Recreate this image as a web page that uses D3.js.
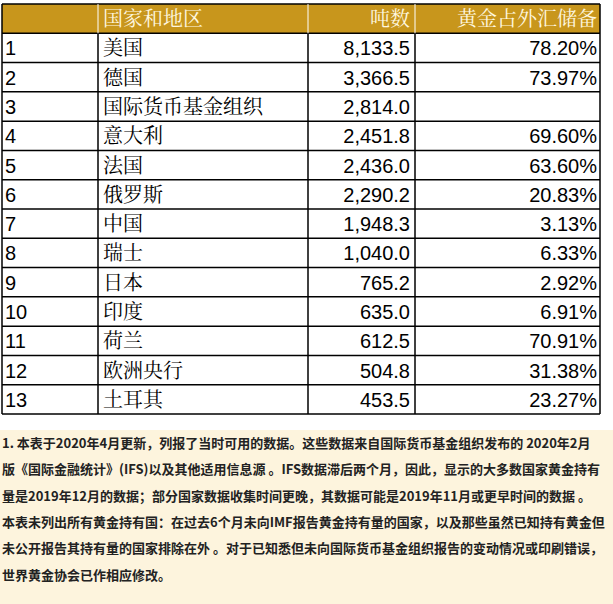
<!DOCTYPE html>
<html><head><meta charset="utf-8">
<script src="https://cdn.jsdelivr.net/npm/d3@7"></script>
<style>body{margin:0;background:#fff}</style>
</head><body><svg id="c" width="613" height="604"></svg>
<script>
var headers = ["", "国家和地区", "吨数", "黄金占外汇储备"];
var ranks = [1,2,3,4,5,6,7,8,9,10,11,12,13];
var names = ["美国","德国","国际货币基金组织","意大利","法国","俄罗斯","中国","瑞士","日本","印度","荷兰","欧洲央行","土耳其"];
var tonnes = [8133.5,3366.5,2814.0,2451.8,2436.0,2290.2,1948.3,1040.0,765.2,635.0,612.5,504.8,453.5];
var share = [78.20,73.97,null,69.60,63.60,20.83,3.13,6.33,2.92,6.91,70.91,31.38,23.27];
var notes = [
 "1. 本表于2020年4月更新，列报了当时可用的数据。这些数据来自国际货币基金组织发布的 2020年2月",
 "版《国际金融统计》(IFS)以及其他适用信息源 。IFS数据滞后两个月，因此，显示的大多数国家黄金持有",
 "量是2019年12月的数据；部分国家数据收集时间更晚，其数据可能是2019年11月或更早时间的数据 。",
 "本表未列出所有黄金持有国：在过去6个月未向IMF报告黄金持有量的国家，以及那些虽然已知持有黄金但",
 "未公开报告其持有量的国家排除在外 。对于已知悉但未向国际货币基金组织报告的变动情况或印刷错误，",
 "世界黄金协会已作相应修改。"
];

var svg = d3.select("#c");
var colX = [2, 98, 308, 415, 600];
var y = d3.scaleBand().domain(d3.range(ranks.length + 1)).range([4, 414]);
var fmt = d3.format(",.1f");
var font = "'Liberation Sans','Noto Sans CJK SC',sans-serif";
var serif = "'Noto Serif CJK SC','Noto Sans CJK SC',serif";

svg.append("rect").attr("x", colX[0]).attr("y", y(0)).attr("width", colX[4]-colX[0]).attr("height", y.bandwidth()).attr("fill", "#c8961c");

var rows = svg.selectAll("g.row").data(d3.range(ranks.length)).enter().append("g")
  .attr("transform", function(i){ return "translate(0," + y(i+1) + ")"; });

svg.append("g").selectAll("line.h").data(d3.range(ranks.length + 2)).enter().append("line")
  .attr("x1", colX[0]).attr("x2", colX[4])
  .attr("y1", function(i){ return i <= ranks.length ? y(i) : 414; })
  .attr("y2", function(i){ return i <= ranks.length ? y(i) : 414; })
  .attr("stroke", "#000").attr("stroke-width", 1.5);
svg.append("g").selectAll("line.v").data(colX).enter().append("line")
  .attr("x1", function(d){ return d; }).attr("x2", function(d){ return d; })
  .attr("y1", function(d, i){ return (i == 0 || i == 4) ? y(0) : y(1); }).attr("y2", 414)
  .attr("stroke", "#000").attr("stroke-width", 1.5);
svg.append("g").selectAll("line.vh").data([colX[1], colX[2], colX[3]]).enter().append("line")
  .attr("x1", function(d){ return d; }).attr("x2", function(d){ return d; })
  .attr("y1", y(0)).attr("y2", y(1)).attr("stroke", "#fff").attr("stroke-width", 1);

var hy = y(0) + y.bandwidth()/2 + 7;
svg.append("text").attr("x", colX[1]+5).attr("y", hy).text(headers[1]);
svg.append("text").attr("x", colX[3]-5).attr("y", hy).attr("text-anchor", "end").text(headers[2]);
svg.append("text").attr("x", colX[4]-3).attr("y", hy).attr("text-anchor", "end").text(headers[3]);
svg.selectAll("text").attr("fill", "#fff8e0").attr("font-size", 20).attr("font-family", serif);

var ty = y.bandwidth()/2 + 7.5;
rows.append("text").attr("x", colX[0]+3).attr("y", ty).attr("font-family", font).text(function(i){ return ranks[i]; });
rows.append("text").attr("x", colX[1]+5).attr("y", ty).attr("font-family", serif).text(function(i){ return names[i]; });
rows.append("text").attr("x", colX[3]-5).attr("y", ty).attr("font-family", font).attr("text-anchor", "end").text(function(i){ return fmt(tonnes[i]); });
rows.append("text").attr("x", colX[4]-3).attr("y", ty).attr("font-family", font).attr("text-anchor", "end").text(function(i){ return share[i] == null ? "" : share[i].toFixed(2) + "%"; });
rows.selectAll("text").attr("font-size", 20).attr("fill", "#000");

svg.append("rect").attr("x", 0).attr("y", 430).attr("width", 613).attr("height", 174).attr("fill", "#fdf4dd");
svg.append("g").selectAll("text").data(notes).enter().append("text")
  .attr("x", 2).attr("y", function(d, i){ return 448 + i*26.3; })
  .attr("font-size", 13).attr("font-weight", "bold").attr("fill", "#222")
  .attr("font-family", "'Noto Sans CJK SC',sans-serif").text(function(d){ return d; });
</script></body></html>
